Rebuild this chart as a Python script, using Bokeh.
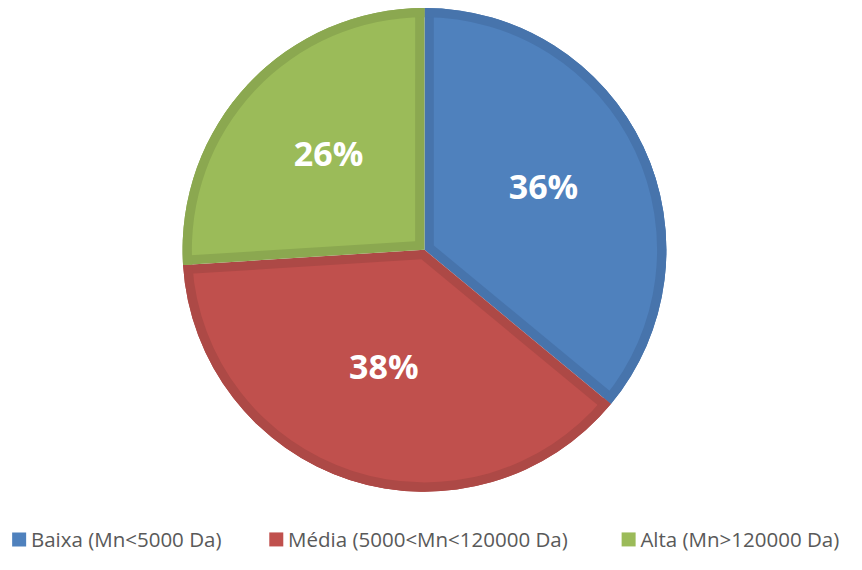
import math
from bokeh.plotting import figure
from bokeh.models import Range1d
from bokeh.core.properties import value
from bokeh.embed import file_html
from bokeh.resources import INLINE

# ---- data ----
categories = ["Baixa (Mn<5000 Da)", "Média (5000<Mn<120000 Da)", "Alta (Mn>120000 Da)"]
shares = [36, 38, 26]
pct_labels = ["36%", "38%", "26%"]
fill_colors = ["#4F81BD", "#C0504D", "#9BBB59"]
band_colors = ["#4774AC", "#AD4946", "#8BA850"]

# ---- layout (reference-image coordinates, y measured from bottom) ----
W, H = 846, 554
RW, RH = 862, 570
cx, cy = 432, RH - 256.5
R = 246.5
BAND = 9.5
LABEL_R = 134
legend_x = [12, 274, 633]
legend_y = RH - 554.5

p = figure(width=W, height=H, output_backend="svg", toolbar_location=None,
           x_range=Range1d(0, RW), y_range=Range1d(0, RH),
           x_axis_type=None, y_axis_type=None, min_border=0)
p.outline_line_color = None
p.grid.visible = False
p.background_fill_color = "white"
p.border_fill_color = "white"

total = float(sum(shares))
cum = 0.0
for i, s in enumerate(shares):
    a0 = math.pi / 2 - 2 * math.pi * (cum + s) / total
    a1 = math.pi / 2 - 2 * math.pi * cum / total
    cum += s
    mid = (a0 + a1) / 2
    half = (a1 - a0) / 2
    shift = BAND / math.sin(half)
    # dark base slice
    p.wedge(x=[cx], y=[cy], radius=R, start_angle=a0, end_angle=a1,
            fill_color=band_colors[i], line_color=None)
    # lighter inset slice
    p.wedge(x=[cx + shift * math.cos(mid)], y=[cy + shift * math.sin(mid)],
            radius=R - shift, start_angle=a0, end_angle=a1,
            fill_color=fill_colors[i], line_color=None)
    # outer dark band
    p.annular_wedge(x=[cx], y=[cy], inner_radius=R - BAND, outer_radius=R,
                    start_angle=a0, end_angle=a1,
                    fill_color=band_colors[i], line_color=None)
    # percentage label
    p.text(x=[cx + LABEL_R * math.cos(mid)], y=[cy + LABEL_R * math.sin(mid)],
           text=[pct_labels[i]], text_color="white", text_font=value("Open Sans"),
           text_font_style="bold", text_font_size="34px", y_offset=-8,
           text_align="center", text_baseline="middle")

# legend
for i, name in enumerate(categories):
    p.rect(x=[legend_x[i] + 7], y=[legend_y], width=14, height=14,
           width_units="screen", height_units="screen",
           fill_color=fill_colors[i], line_color=None)
    p.text(x=[legend_x[i] + 19], y=[legend_y], text=[name], text_color="#595959",
           text_font=value("Open Sans"), text_font_size="20.5px",
           text_align="left", text_baseline="middle")

open("out.html", "w").write(file_html(p, INLINE))
